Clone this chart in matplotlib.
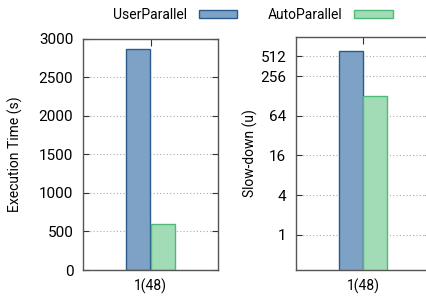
import matplotlib
matplotlib.use("Agg")
import matplotlib.pyplot as plt
from matplotlib.patches import Patch

plt.rcParams["font.family"] = ["Roboto", "DejaVu Sans"]
plt.rcParams["font.size"] = 10

categories = ["1(48)"]
series = ["UserParallel", "AutoParallel"]
exec_time = [2870, 600]
slowdown = [620, 128]
left_ticks = [0, 500, 1000, 1500, 2000, 2500, 3000]
right_ticks = [1, 4, 16, 64, 256, 512]

fill = ["#7ea2c5", "#a2dcb6"]
edge = ["#2b5b8b", "#4dba78"]
width = 0.355
offs = [-0.18, 0.18]

W, H = 427, 298
fig = plt.figure(figsize=(W / 100, H / 100), dpi=100)


def make_ax(x0, x1, y0, y1):
    return fig.add_axes([x0 / W, 1 - y1 / H, (x1 - x0) / W, (y1 - y0) / H])


def style(ax):
    for s in ax.spines.values():
        s.set_color("#555555")
        s.set_linewidth(1.0)
    ax.tick_params(direction="in", length=4, color="#333333", top=True, right=True, pad=7)
    ax.tick_params(axis="y", labelsize=11)
    ax.tick_params(axis="x", length=5, labelsize=10, pad=6)
    ax.grid(axis="y", linestyle=(0, (1, 2)), color="#aaaaaa", linewidth=0.8)
    ax.set_axisbelow(True)
    ax.set_xlim(-1, 1)
    ax.set_xticks([0])
    ax.set_xticklabels(categories)


ax1 = make_ax(83, 218, 38.5, 270)
for i in range(2):
    ax1.bar(offs[i], exec_time[i], width, color=fill[i], edgecolor=edge[i], linewidth=1.0)
ax1.set_ylim(0, 3000)
ax1.set_yticks(left_ticks)
ax1.set_ylabel("Execution Time (s)")
style(ax1)
ax1.yaxis.set_label_coords((23 - 83) / 135, 0.5)

ax2 = make_ax(296, 430.6, 36.7, 270)
for i in range(2):
    ax2.bar(offs[i], slowdown[i], width, color=fill[i], edgecolor=edge[i], linewidth=1.0)
ax2.set_yscale("log", base=2)
ax2.set_ylim(0.29, 1024)
ax2.set_yticks(right_ticks)
ax2.set_yticklabels([str(t) for t in right_ticks])
ax2.minorticks_off()
ax2.set_ylabel("Slow-down (u)")
style(ax2)
ax2.yaxis.set_label_coords((258 - 296) / 134.6, 0.5)

handles = [Patch(facecolor=fill[i], edgecolor=edge[i], linewidth=1.0) for i in range(2)]
fig.legend(handles, series, loc="center", bbox_to_anchor=(253 / W, 1 - 15 / H), ncol=2,
           frameon=False, markerfirst=False, handlelength=2.8, handleheight=0.5,
           columnspacing=2.2, handletextpad=0.8, fontsize=10)

fig.savefig("out.png", dpi=100)
